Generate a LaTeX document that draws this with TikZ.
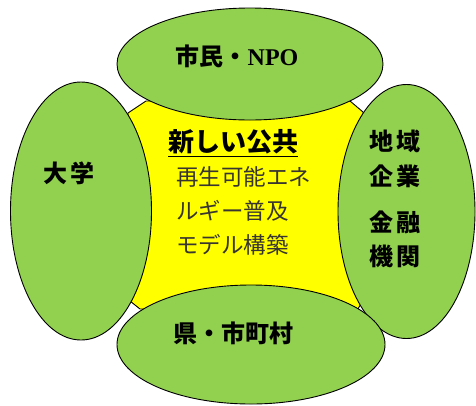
\documentclass[tikz,border=0pt]{standalone}
\usepackage{fontspec}
\usetikzlibrary{shapes.geometric}
\setmainfont{Noto Sans CJK JP}
\newfontfamily\lat{Liberation Serif}
\definecolor{lgreen}{HTML}{92D050}
\definecolor{cyellow}{HTML}{FFFF00}
\tikzset{
  blob/.style={ellipse, draw=black, line width=0.9pt, fill=lgreen, inner sep=0pt},
  lab/.style={font=\fontsize{24}{28}\selectfont\bfseries, inner sep=0pt, text=black},
  sub/.style={font=\fontsize{22.5}{26}\selectfont, inner sep=0pt, anchor=west, text=black!90!yellow},
}
\begin{document}
\begin{tikzpicture}[x=1pt,y=-1pt]
\useasboundingbox (0,0) rectangle (476,405);
\fill[white] (0,0) rectangle (476,405);
% yellow centre
\draw[fill=cyellow, line width=0.9pt] (146,101) -- (350,101) -- (363,112) -- (363,300) -- (358,309) -- (140,309) -- (130,301) -- (128,113) -- cycle;
% ellipses
\node[blob, minimum width=266pt, minimum height=112pt] (top) at (250,64) {};
\node[blob, minimum width=141pt, minimum height=258pt] (left) at (81,211) {};
\node[blob, minimum width=137pt, minimum height=254pt] (right) at (406.5,211.5) {};
\node[blob, minimum width=268pt, minimum height=119pt] (bottom) at (251,344.5) {};
% labels
\node[lab] (ltop) at (237,56) {市民・{\lat NPO}};
\node[lab] (lleft) at (69,173) {大\,学};
\node[lab] (lr1) at (395,141) {地\,域};
\node[lab] (lr2) at (395,176) {企\,業};
\node[lab] (lr3) at (395,222) {金\,融};
\node[lab] (lr4) at (395,256) {機\,関};
\node[lab] (lbot) at (233,333) {県・市町村};
% centre text
\node[lab, anchor=west, font=\fontsize{26}{30}\selectfont\bfseries] (title) at (168,143) {\underline{新しい公共}};
\node[sub] (t1) at (176,177) {再生可能エネ};
\node[sub] (t2) at (176,211) {ルギー普及};
\node[sub] (t3) at (176,245) {モデル構築};
\end{tikzpicture}
\end{document}
